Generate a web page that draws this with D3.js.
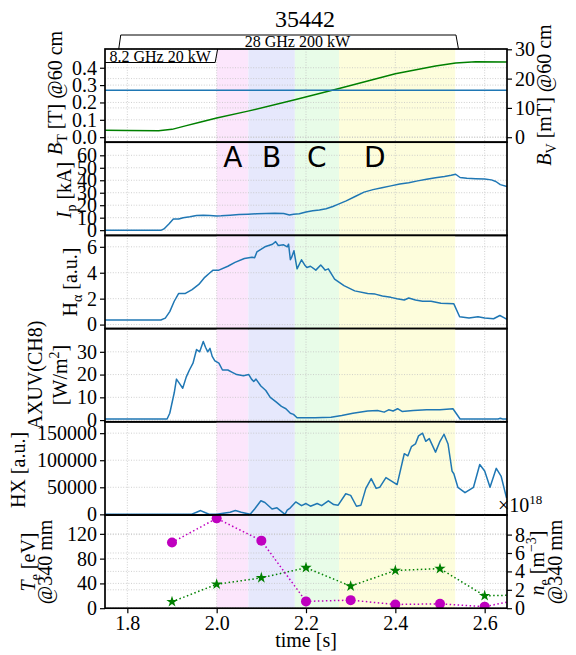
<!DOCTYPE html>
<html>
<head>
<meta charset="utf-8">
<script src="https://cdn.jsdelivr.net/npm/d3@7"></script>
<style>
  body { margin: 0; background: #fff; }
  svg { font-family: "Liberation Serif", "DejaVu Serif", serif; }
</style>
</head>
<body>
<svg id="canvas"></svg>
<script>
// Shot number and heating windows
const shotNumber = "35442";
const heatingLabels = ["8.2 GHz 20 kW", "28 GHz 200 kW"];
const heatingStart = [1.70, 1.783];
const heatingEnd = [2.0, 2.538];

// Discharge phases
const phaseNames = ["A", "B", "C", "D"];
const phaseStart = [2.0, 2.071, 2.175, 2.274];
const phaseEnd = [2.071, 2.175, 2.274, 2.534];
const phaseLabelTime = [2.036, 2.123, 2.224, 2.354];

const timeTicks = [1.8, 2.0, 2.2, 2.4, 2.6];

// B_T [T] @60 cm
const btTime = [1.75, 1.80, 1.87, 1.90, 1.93, 1.96, 2.0, 2.07, 2.175, 2.274, 2.40, 2.49, 2.535, 2.58, 2.65];
const btValue = [0.040, 0.038, 0.037, 0.045, 0.065, 0.085, 0.11, 0.15, 0.215, 0.28, 0.365, 0.41, 0.428, 0.435, 0.433];
// B_V [mT] @60 cm
const bvTime = [1.75, 2.65];
const bvValue = [16, 16];

// I_p [kA]
const ipTime = [1.75, 1.876, 1.882, 1.893, 1.903, 1.915, 1.925, 1.94, 1.955, 1.97, 1.985, 2.0, 2.01, 2.03, 2.05, 2.07, 2.09, 2.11, 2.13, 2.15, 2.163, 2.172, 2.185, 2.2, 2.215, 2.23, 2.245, 2.26, 2.27, 2.29, 2.31, 2.33, 2.35, 2.37, 2.39, 2.41, 2.43, 2.45, 2.47, 2.49, 2.51, 2.525, 2.535, 2.545, 2.56, 2.58, 2.6, 2.615, 2.625, 2.635, 2.65];
const ipValue = [0, 0, 1, 5, 9, 9, 10, 10.8, 11.8, 12, 11.8, 11.4, 11.5, 12, 12.6, 12.8, 13.1, 13.4, 13.6, 13.3, 12.2, 12.8, 13.1, 14.5, 15.5, 16.2, 17.2, 19, 20.5, 23.5, 27, 30.5, 32.5, 34, 35.5, 37, 38, 39.5, 40.8, 42, 43, 44, 44.8, 42.2, 41.6, 41.3, 41, 40.3, 39, 36.5, 35];

// H_alpha [a.u.]
const haTime = [1.75, 1.875, 1.885, 1.895, 1.905, 1.915, 1.93, 1.945, 1.96, 1.972, 1.985, 1.992, 2.005, 2.025, 2.041, 2.062, 2.079, 2.085, 2.09, 2.108, 2.125, 2.132, 2.138, 2.15, 2.158, 2.161, 2.165, 2.168, 2.173, 2.18, 2.19, 2.197, 2.202, 2.21, 2.222, 2.233, 2.238, 2.243, 2.25, 2.264, 2.285, 2.309, 2.338, 2.355, 2.371, 2.39, 2.404, 2.42, 2.43, 2.445, 2.461, 2.48, 2.502, 2.531, 2.544, 2.565, 2.585, 2.6, 2.62, 2.634, 2.642, 2.65];
const haValue = [0.35, 0.35, 0.5, 1.0, 1.8, 2.4, 2.4, 2.7, 3.1, 3.6, 4.0, 4.2, 4.2, 4.5, 4.8, 5.1, 5.2, 5.15, 5.6, 6.0, 6.2, 6.4, 6.1, 6.15, 6.0, 6.2, 5.0, 5.2, 5.7, 4.3, 5.0, 4.6, 4.4, 4.5, 4.2, 4.6, 4.4, 4.2, 4.3, 3.5, 3.0, 2.6, 2.4, 2.35, 2.2, 2.1, 2.0, 1.9, 2.05, 1.9, 1.8, 1.8, 1.65, 1.6, 0.6, 0.5, 0.6, 0.5, 0.45, 0.7, 0.55, 0.4];

// AXUV(CH8) [W/m^2]
const axuvTime = [1.75, 1.889, 1.895, 1.905, 1.91, 1.917, 1.924, 1.932, 1.939, 1.947, 1.955, 1.962, 1.97, 1.975, 1.98, 1.985, 1.99, 1.996, 2.005, 2.013, 2.025, 2.035, 2.045, 2.06, 2.072, 2.078, 2.083, 2.088, 2.099, 2.11, 2.12, 2.133, 2.145, 2.155, 2.165, 2.172, 2.18, 2.22, 2.256, 2.28, 2.305, 2.338, 2.36, 2.375, 2.385, 2.395, 2.405, 2.415, 2.44, 2.47, 2.5, 2.529, 2.545, 2.63, 2.635, 2.64, 2.65];
const axuvValue = [0.5, 0.5, 3, 12, 18, 16, 14, 19, 22, 25, 31, 30, 34.5, 32, 30, 31.5, 28, 26, 25, 22, 22, 21, 20, 19.5, 20, 18, 17, 18, 15, 13, 10, 8, 6, 5, 3, 2.5, 1, 1, 1.2, 2, 3, 4, 4.2, 3.5, 4.5, 4, 5, 3.8, 4.2, 4.5, 4.5, 5, 0.5, 0.5, 0.8, 0.5, 0.5];

// HX [a.u.]
const hxTime = [1.75, 1.943, 1.955, 1.964, 1.975, 1.984, 2.0, 2.03, 2.042, 2.055, 2.075, 2.085, 2.099, 2.108, 2.124, 2.135, 2.153, 2.158, 2.165, 2.177, 2.19, 2.2, 2.21, 2.225, 2.235, 2.25, 2.262, 2.272, 2.289, 2.3, 2.313, 2.323, 2.334, 2.346, 2.357, 2.365, 2.379, 2.404, 2.42, 2.428, 2.436, 2.445, 2.452, 2.461, 2.468, 2.476, 2.49, 2.5, 2.509, 2.518, 2.527, 2.531, 2.54, 2.556, 2.575, 2.589, 2.6, 2.612, 2.626, 2.637, 2.649];
const hxValue = [0, 0, 4000, 7000, 3000, 0, 0, 4000, 7000, 4000, 0, 10000, 25000, 22000, 10000, 12000, 0, 8000, 12000, 23000, 16000, 20000, 15000, 20000, 16000, 25000, 18000, 17000, 38000, 35000, 15000, 17000, 48000, 66000, 48000, 50000, 68000, 55000, 112000, 108000, 125000, 130000, 145000, 150000, 135000, 140000, 115000, 135000, 148000, 130000, 80000, 75000, 50000, 40000, 50000, 92000, 80000, 50000, 85000, 70000, 30000];

// Thomson scattering @340 mm
const tsTime = [1.9, 2.0, 2.1, 2.2, 2.3, 2.4, 2.5, 2.6, 2.7];
const teValue = [106, 145, 109, 11, 13, 6, 7, 2.5, 17];      // eV
const neValue = [0.7, 2.6, 3.3, 4.4, 2.4, 4.1, 4.3, 1.35, 1.45]; // 1e18 m^-3

// ---- layout ----
const W = 576, H = 655;
const left = 105, right = 507, top0 = 49, panelH = 93.2;
const blue = "#1f77b4", green = "#008000", magenta = "#bf00bf";
const phaseColors = ["#fce6fc", "#e6e8fc", "#e8fce8", "#fdfddc"];
const serif = "Liberation Serif";

const svg = d3.select("#canvas").attr("width", W).attr("height", H);
const x = d3.scaleLinear().domain([1.75, 2.65]).range([left, right]);

// style tick labels of an axis group
const styleAxis = (ax) => {
   ax.select(".domain").remove();
   ax.selectAll("text").style("font-size", "20px").style("font-family", serif).attr("fill", "#000");
   ax.selectAll("line").attr("stroke-width", 1.2);
};

// Draws one panel: background phases, grid, clipped data group, frame
const makePanel = (i, yDomain, yTicks, fmt, y2Domain, y2Ticks) => {
   const y0 = top0 + i * panelH, y1 = y0 + panelH;
   const y = d3.scaleLinear().domain(yDomain).range([y1, y0]);
   const y2 = y2Domain ? d3.scaleLinear().domain(y2Domain).range([y1, y0]) : null;
   const g = svg.append("g");

   svg.append("clipPath").attr("id", "clip" + i)
      .append("rect").attr("x", left).attr("y", y0).attr("width", right - left).attr("height", panelH);

   g.selectAll(".phase").data(phaseStart).enter().append("rect")
      .attr("x", (d) => x(d))
      .attr("y", y0)
      .attr("width", (d, j) => x(phaseEnd[j]) - x(d))
      .attr("height", panelH)
      .attr("fill", (d, j) => phaseColors[j]);

   const grid = g.append("g")
      .attr("stroke", "#c4c4c4").attr("stroke-width", 0.8).attr("stroke-dasharray", "1,1.6");
   grid.selectAll(".vx").data(timeTicks).enter().append("line")
      .attr("x1", (d) => x(d)).attr("x2", (d) => x(d)).attr("y1", y0).attr("y2", y1);
   grid.selectAll(".hy").data(yTicks).enter().append("line")
      .attr("x1", left).attr("x2", right).attr("y1", (d) => y(d)).attr("y2", (d) => y(d));
   if (y2) {
      grid.selectAll(".hy2").data(y2Ticks).enter().append("line")
         .attr("x1", left).attr("x2", right).attr("y1", (d) => y2(d)).attr("y2", (d) => y2(d));
   }

   const plot = g.append("g").attr("clip-path", `url(#clip${i})`);

   // frame and ticks drawn after data by caller
   const finish = () => {
      styleAxis(svg.append("g").attr("transform", `translate(${left},0)`)
         .call(d3.axisLeft(y).tickValues(yTicks).tickFormat(fmt).tickSize(5).tickPadding(3)));
      if (y2) {
         styleAxis(svg.append("g").attr("transform", `translate(${right},0)`)
            .call(d3.axisRight(y2).tickValues(y2Ticks).tickFormat(d3.format("d")).tickSize(5).tickPadding(3)));
      }
      svg.append("rect").attr("x", left).attr("y", y0).attr("width", right - left).attr("height", panelH)
         .attr("fill", "none").attr("stroke", "#000").attr("stroke-width", 1.7);
   };
   return { y, y2, y0, y1, plot, finish };
};

const drawLine = (plot, yScale, ts, vs, color, dash) => {
   plot.append("path")
      .datum(d3.zip(ts, vs))
      .attr("fill", "none")
      .attr("stroke", color)
      .attr("stroke-width", 1.5)
      .attr("stroke-linejoin", "round")
      .attr("stroke-dasharray", dash || null)
      .attr("d", d3.line().x((d) => x(d[0])).y((d) => yScale(d[1])));
};

// Rotated y label with tspans: parts = [[text, style]] style: "i" italic, "sub", "sup"
const yLabel = (bx, cy, parts) => {
   const t = svg.append("text")
      .attr("transform", `translate(${bx},${cy}) rotate(-90)`)
      .attr("text-anchor", "middle")
      .style("font-size", "20px");
   let shift = 0;
   parts.forEach(([s, st]) => {
      const sp = t.append("tspan").text(s);
      let target = 0;
      if (st === "i") sp.style("font-style", "italic");
      if (st === "sub") { sp.style("font-size", "14px"); target = 5; }
      if (st === "sup") { sp.style("font-size", "14px"); target = -8; }
      sp.attr("dy", target - shift);
      shift = target;
   });
};

// ---- Panel 1: B_T and B_V ----
const p1 = makePanel(0, [-0.029, 0.508], [0, 0.1, 0.2, 0.3, 0.4], d3.format(".1f"), [-1.7, 30.1], [0, 10, 20, 30]);
drawLine(p1.plot, p1.y, btTime, btValue, green);
drawLine(p1.plot, p1.y2, bvTime, bvValue, blue);
p1.finish();

// heating annotations
svg.append("path")
   .attr("d", `M${x(heatingStart[1]) - 1},${top0} L${x(heatingStart[1]) + 1},${top0 - 14} L${x(heatingEnd[1]) - 1},${top0 - 14} L${x(heatingEnd[1]) + 1.5},${top0}`)
   .attr("fill", "none").attr("stroke", "#000").attr("stroke-width", 1);
svg.append("text")
   .attr("x", (x(heatingStart[1]) + x(heatingEnd[1])) / 2 + 9)
   .attr("y", top0 - 1.7)
   .attr("text-anchor", "middle").style("font-size", "16px")
   .text(heatingLabels[1]);
svg.append("path")
   .attr("d", `M${left},${top0 + 13.5} L${x(heatingEnd[0]) - 1.5},${top0 + 13.5} L${x(heatingEnd[0]) + 1},${top0}`)
   .attr("fill", "none").attr("stroke", "#000").attr("stroke-width", 1);
svg.append("text")
   .attr("x", left + 4.5).attr("y", top0 + 12.5)
   .style("font-size", "16px")
   .text(heatingLabels[0]);

// ---- Panel 2: Ip ----
const p2 = makePanel(1, [-4.2, 70.5], [0, 10, 20, 30, 40, 50, 60], d3.format("d"));
drawLine(p2.plot, p2.y, ipTime, ipValue, blue);
p2.finish();
svg.selectAll(".phaseLabel").data(phaseNames).enter().append("text")
   .attr("x", (d, j) => x(phaseLabelTime[j]))
   .attr("y", p2.y(50.5))
   .attr("text-anchor", "middle")
   .style("font-family", "DejaVu Sans")
   .style("font-size", "28px")
   .text((d) => d);

// ---- Panel 3: H alpha ----
const p3 = makePanel(2, [-0.31, 6.88], [0, 2, 4, 6], d3.format("d"));
drawLine(p3.plot, p3.y, haTime, haValue, blue);
p3.finish();

// ---- Panel 4: AXUV ----
const p4 = makePanel(3, [-0.75, 40.2], [0, 10, 20, 30], d3.format("d"));
drawLine(p4.plot, p4.y, axuvTime, axuvValue, blue);
p4.finish();

// ---- Panel 5: HX ----
const p5 = makePanel(4, [-1200, 171000], [0, 50000, 100000, 150000], d3.format("d"));
drawLine(p5.plot, p5.y, hxTime, hxValue, blue);
p5.finish();

// ---- Panel 6: Thomson Te / ne ----
const p6 = makePanel(5, [0, 150.4], [0, 40, 80, 120], d3.format("d"), [0, 10.13], [0, 2, 4, 6, 8]);
drawLine(p6.plot, p6.y2, tsTime, neValue, green, "1.5,2.5");
drawLine(p6.plot, p6.y, tsTime, teValue, magenta, "1.5,2.5");
p6.plot.selectAll(".ne").data(d3.zip(tsTime, neValue)).enter().append("path")
   .attr("transform", (d) => `translate(${x(d[0])},${p6.y2(d[1])})`)
   .attr("d", d3.symbol(d3.symbolStar).size(40))
   .attr("fill", green);
p6.plot.selectAll(".te").data(d3.zip(tsTime, teValue)).enter().append("circle")
   .attr("cx", (d) => x(d[0]))
   .attr("cy", (d) => p6.y(d[1]))
   .attr("r", 5)
   .attr("fill", magenta);
p6.finish();

// bottom time axis
styleAxis(svg.append("g").attr("transform", `translate(0,${p6.y1})`)
   .call(d3.axisBottom(x).tickValues(timeTicks).tickFormat(d3.format(".1f")).tickSize(5).tickPadding(3)));
svg.append("text").attr("x", (left + right) / 2).attr("y", 647)
   .attr("text-anchor", "middle").style("font-size", "20px").text("time [s]");

// offset text for ne
const off = svg.append("text").attr("x", 498).attr("y", 511.5).style("font-size", "20px");
off.append("tspan").text("×10");
off.append("tspan").style("font-size", "13px").attr("dy", -8).text("18");

// title
svg.append("text").attr("x", 305).attr("y", 27).attr("text-anchor", "middle")
   .style("font-size", "24px").text(shotNumber);

// y labels
yLabel(62, 93, [["B", "i"], ["T", "sub"], [" [T] @60 cm", ""]]);
yLabel(71, 190, [["I", "i"], ["p", "sub"], [" [kA]", ""]]);
yLabel(77, 282, [["H", ""], ["α", "sub"], [" [a.u.]", ""]]);
yLabel(42, 375, [["AXUV(CH8)", ""]]);
yLabel(67, 375, [["[W/m", ""], ["2", "sup"], ["]", ""]]);
yLabel(25, 470, [["HX [a.u.]", ""]]);
yLabel(35, 562, [["T", "i"], ["e", "sub"], [" [eV]", ""]]);
yLabel(52, 562, [["@340 mm", ""]]);
yLabel(551, 95, [["B", "i"], ["V", "sub"], [" [mT] @60 cm", ""]]);
yLabel(544, 563, [["n", "i"], ["e", "sub"], [" [m", ""], ["−3", "sup"], ["]", ""]]);
yLabel(562, 562, [["@340 mm", ""]]);
</script>
</body>
</html>
